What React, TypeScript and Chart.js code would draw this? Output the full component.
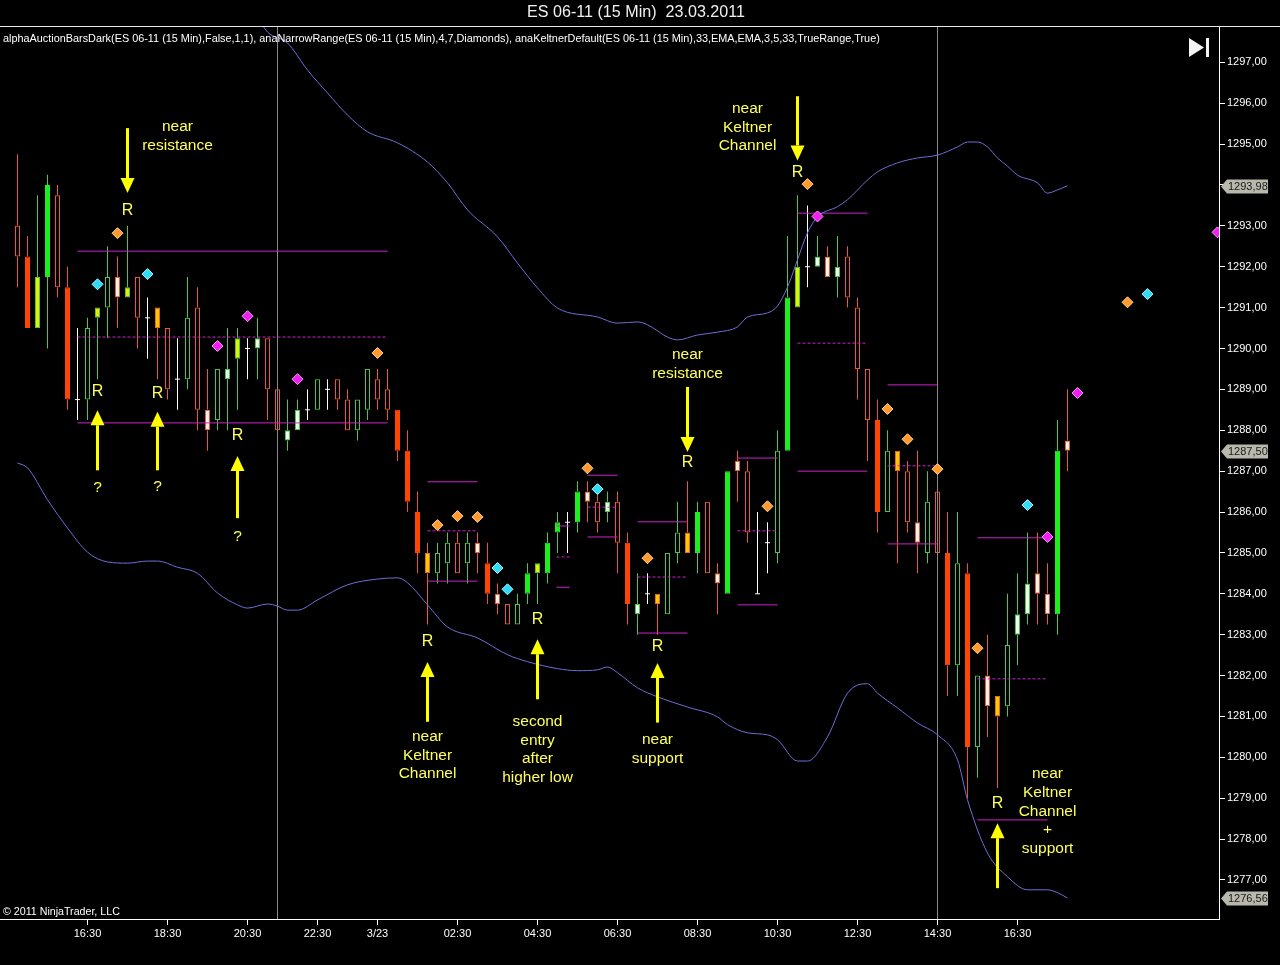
import React, { useEffect, useRef } from "react";
import { Chart, registerables } from "chart.js";

Chart.register(...registerables);

const FONT = '"Liberation Sans", Arial, Helvetica, sans-serif';

// ---------- DATA ----------
const titleText = "ES 06-11 (15 Min)  23.03.2011";
const indicatorText =
  "alphaAuctionBarsDark(ES 06-11 (15 Min),False,1,1), anaNarrowRange(ES 06-11 (15 Min),4,7,Diamonds), anaKeltnerDefault(ES 06-11 (15 Min),33,EMA,EMA,3,5,33,TrueRange,True)";
const copyrightText = "\u00A9 2011 NinjaTrader, LLC";

const xTickBars = [7, 15, 23, 30, 36, 44, 52, 60, 68, 76, 84, 92, 100];
const xTickLabels = ["16:30", "18:30", "20:30", "22:30", "3/23", "02:30", "04:30", "06:30", "08:30", "10:30", "12:30", "14:30", "16:30"];
const yTickValues = [1277, 1278, 1279, 1280, 1281, 1282, 1283, 1284, 1285, 1286, 1287, 1288, 1289, 1290, 1291, 1292, 1293, 1294, 1295, 1296, 1297];

// bar style codes: R solid down, r hollow down, G solid up, g hollow up,
// Y yellow (green rim), O gold (red rim), W white (red rim), w white (green rim), D doji
const barStyle = [
  "r","R","Y","G","r","R","D","g","Y","g","W","Y","r","D","O","r","D","g","r","W",
  "g","w","Y","D","w","r","r","w","w","D","g","D","r","r","g","g","r","r","R","R",
  "R","O","g","g","r","g","W","R","W","r","g","G","Y","G","G","D","G","W","r","w",
  "r","R","w","D","O","g","g","O","G","r","W","G","W","r","D","D","g","G","Y","D",
  "w","W","w","r","r","r","R","g","O","r","W","g","r","R","g","R","g","W","O","g",
  "w","w","W","W","G","W",
];
const openP = [
  1293.0,1292.25,1290.5,1291.75,1293.75,1291.5,1288.75,1288.75,1290.75,1291.0,
  1291.75,1291.25,1291.75,1290.75,1291.0,1290.5,1289.25,1289.25,1291.0,1288.5,
  1288.25,1289.25,1289.75,1290.0,1290.0,1290.25,1289.0,1287.75,1288.0,1288.5,
  1288.5,1289.0,1289.25,1288.75,1288.0,1288.5,1289.25,1289.0,1288.5,1287.5,
  1286.0,1285.0,1284.5,1284.75,1285.25,1284.75,1285.25,1284.75,1284.0,1283.75,
  1283.25,1284.0,1284.5,1284.5,1285.5,1285.75,1285.75,1286.5,1286.25,1286.0,
  1286.25,1285.25,1283.5,1284.0,1284.0,1283.5,1285.0,1285.5,1285.0,1286.25,
  1284.5,1284.0,1287.25,1287.0,1284.0,1285.25,1285.0,1287.5,1291.0,1292.0,
  1292.0,1292.25,1291.75,1292.25,1291.0,1289.5,1288.25,1286.0,1287.5,1287.0,
  1285.75,1285.0,1286.5,1285.0,1282.25,1284.5,1280.25,1282.0,1281.5,1281.25,
  1283.0,1283.5,1284.5,1284.0,1283.5,1287.75,
];
const highP = [
  1294.75,1292.75,1293.75,1294.25,1294.0,1292.0,1290.5,1290.75,1291.0,1292.5,
  1292.25,1293.0,1291.75,1291.25,1291.0,1290.5,1290.25,1291.75,1291.5,1289.5,
  1289.5,1290.5,1290.5,1290.25,1290.75,1290.25,1289.5,1288.75,1288.75,1289.0,
  1289.25,1289.25,1289.25,1289.0,1288.75,1289.5,1289.5,1289.5,1288.5,1288.0,
  1286.5,1285.25,1285.25,1285.5,1285.5,1285.5,1285.5,1285.25,1284.25,1283.75,
  1284.0,1284.75,1284.75,1285.5,1286.0,1286.0,1286.75,1286.75,1286.5,1286.5,
  1286.5,1285.5,1284.5,1284.5,1284.0,1285.0,1286.25,1286.75,1286.25,1286.25,
  1284.75,1287.0,1287.5,1287.25,1286.0,1285.75,1288.0,1292.75,1293.75,1293.5,
  1292.75,1292.5,1292.75,1292.5,1291.25,1289.5,1288.75,1288.0,1287.5,1287.25,
  1287.5,1287.0,1286.5,1286.0,1286.0,1284.75,1282.0,1283.0,1281.5,1284.0,
  1284.5,1285.5,1285.5,1284.75,1288.25,1289.0,
];
const lowP = [
  1291.5,1290.5,1290.5,1290.0,1291.25,1288.5,1288.25,1288.25,1289.25,1290.25,
  1290.5,1291.25,1290.0,1289.75,1289.25,1288.75,1288.5,1289.0,1288.0,1287.5,
  1288.0,1288.0,1288.5,1289.25,1289.25,1288.25,1287.75,1287.5,1288.0,1288.25,
  1288.5,1288.5,1288.5,1288.0,1287.75,1288.25,1288.5,1288.25,1287.25,1286.0,
  1284.5,1283.25,1284.25,1284.25,1284.5,1284.25,1284.5,1283.75,1283.5,1283.25,
  1283.25,1283.75,1283.75,1284.25,1285.0,1285.0,1285.5,1285.75,1285.5,1285.75,
  1284.5,1283.25,1283.0,1283.75,1283.0,1283.5,1284.75,1285.0,1284.5,1284.5,
  1283.5,1284.0,1286.25,1285.25,1284.0,1284.5,1284.75,1287.5,1291.0,1291.5,
  1292.0,1291.75,1291.25,1291.0,1288.75,1287.25,1285.5,1286.0,1284.75,1285.5,
  1284.5,1284.75,1284.75,1281.5,1281.5,1279.0,1279.5,1280.5,1279.25,1281.0,
  1282.25,1283.25,1283.25,1283.25,1283.0,1287.0,
];
const closeP = [
  1292.25,1290.5,1291.75,1294.0,1291.5,1288.75,1288.75,1290.5,1291.0,1291.75,
  1291.25,1291.5,1290.75,1290.75,1290.5,1289.0,1289.25,1290.75,1288.5,1288.0,
  1289.5,1289.5,1290.25,1290.0,1290.25,1289.0,1288.0,1288.0,1288.5,1288.5,
  1289.25,1289.0,1288.75,1288.0,1288.75,1289.5,1288.75,1288.5,1287.5,1286.25,
  1285.0,1284.5,1285.0,1285.25,1284.5,1285.25,1285.0,1284.0,1283.75,1283.25,
  1283.75,1284.5,1284.75,1285.25,1285.75,1285.75,1286.5,1286.25,1285.75,1286.25,
  1285.25,1283.75,1283.75,1284.0,1283.75,1285.0,1285.5,1285.0,1286.0,1284.5,
  1284.25,1287.0,1287.0,1285.5,1284.0,1285.25,1287.5,1291.25,1292.0,1292.0,
  1292.25,1291.75,1292.0,1291.25,1289.5,1288.25,1286.0,1287.5,1287.0,1285.75,
  1285.25,1286.25,1285.0,1282.25,1284.75,1280.25,1282.0,1281.25,1281.0,1282.75,
  1283.5,1284.25,1284.0,1283.5,1287.5,1287.5,
];

// Keltner channel (bar index, price)
const kcUpperBars = [24,25,27,29,31,33,35,38,41,43,45,48,50,52,54,58,60,62,63,65,66,68,70,72,73,75,76,77,78,79,80,82,83,85,86,88,90,92,94,95,96,97,98,99,100,102,103,104,105];
const kcUpper = [1298.1,1297.74,1297.47,1296.81,1296.25,1295.71,1295.3,1295.03,1294.56,1294.05,1293.39,1292.73,1292.09,1291.48,1290.99,1290.77,1290.62,1290.65,1290.58,1290.28,1290.21,1290.33,1290.4,1290.53,1290.77,1290.87,1291.04,1291.5,1292.17,1292.83,1293.22,1293.47,1293.64,1294.12,1294.32,1294.54,1294.66,1294.73,1294.93,1295.05,1295.05,1294.93,1294.66,1294.46,1294.24,1294.05,1293.8,1293.88,1293.98];
const kcLowerBars = [0,1,3,5,7,9,11,13,14,16,18,20,22,23,25,26,27,28,30,33,36,38,39,41,43,46,49,51,54,56,58,59,60,62,64,67,70,71,73,75,76,78,79,81,83,85,86,88,90,92,94,95,97,99,101,103,104,105];
const kcLower = [1287.2,1287.08,1286.3,1285.61,1285.02,1284.78,1284.75,1284.8,1284.8,1284.65,1284.5,1284.02,1283.73,1283.65,1283.75,1283.7,1283.6,1283.6,1283.85,1284.22,1284.36,1284.39,1284.27,1283.73,1283.19,1282.92,1282.51,1282.34,1282.17,1282.12,1282.14,1282.21,1282.07,1281.7,1281.48,1281.23,1280.99,1280.8,1280.6,1280.55,1280.43,1279.91,1279.91,1280.5,1281.57,1281.8,1281.57,1281.21,1280.84,1280.55,1279.94,1278.96,1277.66,1277.08,1276.76,1276.76,1276.69,1276.56];

// Narrow range levels
const nrFrom = [6, 41, 53.9, 57, 62, 72, 78, 87, 96];
const nrTo = [37, 46, 55.2, 60, 67, 76, 85, 92, 103];
const nrTop = [1292.38, 1286.74, 1285.66, 1286.9, 1285.76, 1287.32, 1293.31, 1289.11, 1285.37];
const nrMid = [1290.28, 1285.54, 1284.9, 1286.12, 1284.41, 1285.54, 1290.13, 1287.13, 1281.92];
const nrBot = [1288.18, 1284.31, 1284.16, 1285.39, 1283.04, 1283.73, 1287.0, 1285.22, 1278.47];

// Diamonds
const orangeBars = [10, 36, 42, 44, 46, 57, 63, 75, 79, 87, 89, 92, 96, 111];
const orangeVals = [1292.82, 1289.89, 1285.68, 1285.9, 1285.88, 1287.07, 1284.87, 1286.14, 1294.02, 1288.52, 1287.78, 1287.05, 1282.67, 1291.13];
const cyanBars = [8, 13, 48, 49, 58, 101, 113];
const cyanVals = [1291.57, 1291.82, 1284.63, 1284.11, 1286.56, 1286.17, 1291.33];
const magentaBars = [20, 23, 28, 80, 103, 106, 120];
const magentaVals = [1290.06, 1290.79, 1289.25, 1293.23, 1285.39, 1288.91, 1292.84];

// session separators
const sessionBars = [26, 92];

// annotations
const rMarkBars = [11, 8, 14, 22, 78, 67, 41, 52, 64, 98];
const rMarkVals = [1293.38, 1288.94, 1288.89, 1287.86, 1294.29, 1287.2, 1282.82, 1283.38, 1282.72, 1278.88];
const qMarkBars = [8, 14, 22];
const qMarkVals = [1286.59, 1286.61, 1285.39];
const noteBars = [16, 73, 67, 41, 52, 64, 103];
const noteVals = [1295.42, 1295.86, 1289.84, 1280.5, 1280.87, 1280.43, 1279.59];
const noteLines = [
  ["near", "resistance"],
  ["near", "Keltner", "Channel"],
  ["near", "resistance"],
  ["near", "Keltner", "Channel"],
  ["second", "entry", "after", "higher low"],
  ["near", "support"],
  ["near", "Keltner", "Channel", "+", "support"],
];
const arrowBars = [11, 8, 14, 22, 78, 67, 41, 52, 64, 98];
const arrowFrom = [1295.39, 1287.02, 1287.02, 1285.85, 1296.17, 1289.06, 1280.87, 1281.42, 1280.85, 1276.8];
const arrowTo = [1293.8, 1288.49, 1288.45, 1287.37, 1294.6, 1287.47, 1282.33, 1282.89, 1282.31, 1278.39];

// ---------- STYLE ----------
const X_MIN = -1.75;
const X_MAX = 120.15;
const Y_MIN = 1276.046;
const Y_MAX = 1297.863;

const RED = "#EC5A2C";
const GREEN = "#44CC44";
const STYLES: Record<string, { fill: string; border: string; wick: string }> = {
  R: { fill: "#FF4500", border: "#FF4500", wick: "#F0541E" },
  r: { fill: "rgba(0,0,0,0)", border: RED, wick: RED },
  G: { fill: "#1CF01C", border: "#1CF01C", wick: GREEN },
  g: { fill: "rgba(0,0,0,0)", border: GREEN, wick: GREEN },
  Y: { fill: "#E8EE00", border: GREEN, wick: GREEN },
  O: { fill: "#FFC800", border: "#EC6A20", wick: RED },
  W: { fill: "#FFF0EA", border: RED, wick: RED },
  w: { fill: "#EEFFEE", border: GREEN, wick: GREEN },
  D: { fill: "#FFFFFF", border: "#FFFFFF", wick: "#FFFFFF" },
};
const YELLOW = "#FFFF5A";
const fmtPrice = (v: number) => v.toFixed(2).replace(".", ",");

function buildDatasets() {
  const bodies: any[] = [], bodyFill: string[] = [], bodyBorder: string[] = [];
  const wicks: any[] = [], wickColor: string[] = [];
  const doji: any[] = [];
  for (let i = 0; i < openP.length; i++) {
    const st = STYLES[barStyle[i]];
    const top = Math.max(openP[i], closeP[i]);
    const bot = Math.min(openP[i], closeP[i]);
    if (barStyle[i] === "D") {
      wicks.push({ x: i, y: [lowP[i], highP[i]] });
      wickColor.push(st.wick);
      doji.push({ x: i, y: openP[i] });
      continue;
    }
    bodies.push({ x: i, y: [bot, top] });
    bodyFill.push(st.fill);
    bodyBorder.push(st.border);
    if (highP[i] > top) { wicks.push({ x: i, y: [top, highP[i]] }); wickColor.push(st.wick); }
    if (lowP[i] < bot) { wicks.push({ x: i, y: [lowP[i], bot] }); wickColor.push(st.wick); }
  }
  const ds: any[] = [];
  const diamond = (bars: number[], vals: number[], fill: string, rim: string) => ({
    type: "scatter",
    data: bars.map((b, k) => ({ x: b, y: vals[k] })),
    pointStyle: "rectRot",
    pointRadius: 5.5,
    pointBackgroundColor: fill,
    pointBorderColor: rim,
    pointBorderWidth: 1,
    order: 0,
  });
  ds.push(diamond(orangeBars, orangeVals, "#FF9A2E", "#FFD090"));
  ds.push(diamond(cyanBars, cyanVals, "#30DCF5", "#A8F4FF"));
  ds.push(diamond(magentaBars, magentaVals, "#F020F0", "#FF90FF"));
  ds.push({
    type: "line",
    data: kcUpperBars.map((b, k) => ({ x: b, y: kcUpper[k] })),
    borderColor: "#6E6ED8", borderWidth: 1, pointRadius: 0, cubicInterpolationMode: "monotone", order: 1,
  });
  ds.push({
    type: "line",
    data: kcLowerBars.map((b, k) => ({ x: b, y: kcLower[k] })),
    borderColor: "#6E6ED8", borderWidth: 1, pointRadius: 0, cubicInterpolationMode: "monotone", order: 1,
  });
  for (let k = 0; k < nrFrom.length; k++) {
    const lv = [
      { v: nrTop[k], dash: [] as number[] },
      { v: nrMid[k], dash: [3, 2] },
      { v: nrBot[k], dash: [] as number[] },
    ];
    lv.forEach((l) =>
      ds.push({
        type: "line",
        data: [{ x: nrFrom[k], y: l.v }, { x: nrTo[k], y: l.v }],
        borderColor: "#CC22CC", borderWidth: 1, borderDash: l.dash, pointRadius: 0, order: 1,
      })
    );
  }
  sessionBars.forEach((b) =>
    ds.push({
      type: "line",
      data: [{ x: b, y: Y_MIN }, { x: b, y: Y_MAX }],
      borderColor: "#8A8A8A", borderWidth: 1, pointRadius: 0, order: 2,
    })
  );
  ds.push({
    type: "scatter",
    data: doji,
    pointStyle: "line",
    pointRadius: 2.5,
    pointBorderColor: "#FFFFFF",
    pointBorderWidth: 1,
    order: 3,
  });
  ds.push({
    type: "bar",
    data: bodies,
    backgroundColor: bodyFill,
    borderColor: bodyBorder,
    borderWidth: 1,
    borderSkipped: false,
    barThickness: 5,
    grouped: false,
    inflateAmount: 0,
    order: 4,
  });
  ds.push({
    type: "bar",
    data: wicks,
    backgroundColor: wickColor,
    borderWidth: 0,
    barThickness: 1,
    grouped: false,
    inflateAmount: 0,
    order: 5,
  });
  return ds;
}

const bgPlugin = {
  id: "bg",
  beforeDraw(chart: any) {
    const { ctx, width, height } = chart;
    ctx.save();
    ctx.fillStyle = "#000";
    ctx.fillRect(0, 0, width, height);
    ctx.restore();
  },
};

const notesPlugin = {
  id: "notes",
  afterDatasetsDraw(chart: any) {
    const { ctx } = chart;
    const xs = chart.scales.x, ys = chart.scales.y;
    ctx.save();
    ctx.fillStyle = "#FFFF00";
    ctx.strokeStyle = "#FFFF00";
    for (let k = 0; k < arrowBars.length; k++) {
      const px = xs.getPixelForValue(arrowBars[k]);
      const yT = ys.getPixelForValue(arrowFrom[k]);
      const yH = ys.getPixelForValue(arrowTo[k]);
      const dir = yH > yT ? 1 : -1;
      const headLen = 15, half = 7;
      ctx.lineWidth = 3;
      ctx.beginPath();
      ctx.moveTo(px, yT);
      ctx.lineTo(px, yH - dir * headLen);
      ctx.stroke();
      ctx.beginPath();
      ctx.moveTo(px, yH);
      ctx.lineTo(px - half, yH - dir * headLen);
      ctx.lineTo(px + half, yH - dir * headLen);
      ctx.closePath();
      ctx.fill();
    }
    ctx.fillStyle = YELLOW;
    ctx.textAlign = "center";
    ctx.textBaseline = "middle";
    ctx.font = `16px ${FONT}`;
    rMarkBars.forEach((b, k) => ctx.fillText("R", xs.getPixelForValue(b), ys.getPixelForValue(rMarkVals[k])));
    ctx.font = `15.5px ${FONT}`;
    qMarkBars.forEach((b, k) => ctx.fillText("?", xs.getPixelForValue(b), ys.getPixelForValue(qMarkVals[k])));
    noteBars.forEach((b, k) => {
      const px = xs.getPixelForValue(b);
      const py = ys.getPixelForValue(noteVals[k]);
      noteLines[k].forEach((t, j) => ctx.fillText(t, px, py + j * 18.6));
    });
    ctx.restore();
  },
};

function fitFont(ctx: any, text: string, target: number, base: number) {
  ctx.font = `${base}px ${FONT}`;
  const w = ctx.measureText(text).width;
  return (base * target) / w;
}

const framePlugin = {
  id: "frame",
  afterDraw(chart: any) {
    const { ctx, width, chartArea } = chart;
    const xs = chart.scales.x, ys = chart.scales.y;
    ctx.save();
    ctx.strokeStyle = "#E8E8E8";
    ctx.lineWidth = 1;
    ctx.beginPath();
    ctx.moveTo(0, 26.5);
    ctx.lineTo(width, 26.5);
    ctx.stroke();
    ctx.strokeStyle = "#FFFFFF";
    ctx.beginPath();
    xTickBars.forEach((b) => {
      const px = Math.floor(xs.getPixelForValue(b)) + 0.5;
      ctx.moveTo(px, chartArea.bottom);
      ctx.lineTo(px, chartArea.bottom + 6);
    });
    ctx.stroke();
    ctx.fillStyle = "#F0F0F0";
    ctx.textAlign = "center";
    ctx.textBaseline = "middle";
    ctx.font = `${fitFont(ctx, titleText, 218, 14)}px ${FONT}`;
    ctx.fillText(titleText, 636, 12.5);
    ctx.textAlign = "left";
    ctx.font = `${fitFont(ctx, indicatorText, 878, 11)}px ${FONT}`;
    ctx.fillStyle = "#FFFFFF";
    ctx.fillText(indicatorText, 3, 38.5);
    ctx.font = `${fitFont(ctx, copyrightText, 117, 11)}px ${FONT}`;
    ctx.fillText(copyrightText, 3, 912.5);
    ctx.fillStyle = "#F4F4F4";
    ctx.beginPath();
    ctx.moveTo(1189, 38);
    ctx.lineTo(1204, 47.5);
    ctx.lineTo(1189, 57);
    ctx.closePath();
    ctx.fill();
    ctx.fillRect(1206, 38, 3, 19);
    const boxes = [kcUpper[kcUpper.length - 1], closeP[closeP.length - 1], kcLower[kcLower.length - 1]];
    ctx.font = `11px ${FONT}`;
    boxes.forEach((v) => {
      const py = Math.round(ys.getPixelForValue(v)) + 0.5;
      ctx.fillStyle = "#B8B8AC";
      ctx.beginPath();
      ctx.moveTo(1221, py);
      ctx.lineTo(1227, py - 7);
      ctx.lineTo(1268, py - 7);
      ctx.lineTo(1268, py + 7);
      ctx.lineTo(1227, py + 7);
      ctx.closePath();
      ctx.fill();
      ctx.fillStyle = "#1A1A1A";
      ctx.textAlign = "left";
      ctx.fillText(fmtPrice(v), 1228, py + 0.5);
    });
    ctx.restore();
  },
};

export default function App() {
  const ref = useRef<HTMLCanvasElement>(null);
  useEffect(() => {
    document.body.style.margin = "0";
    document.body.style.background = "#000";
    const canvas = ref.current;
    if (!canvas) return;
    const chart = new Chart(canvas, {
      type: "bar",
      data: { datasets: buildDatasets() },
      options: {
        animation: false,
        responsive: false,
        events: [],
        layout: { autoPadding: false, padding: { top: 27, left: 0, right: 0, bottom: 0 } },
        plugins: { legend: { display: false }, tooltip: { enabled: false }, title: { display: false } },
        scales: {
          x: {
            type: "linear",
            position: "bottom",
            min: X_MIN,
            max: X_MAX,
            offset: false,
            grid: { display: true, offset: false, drawOnChartArea: false, drawTicks: true, tickLength: 6, color: "#FFFFFF", lineWidth: 1 },
            border: { display: true, color: "#FFFFFF", width: 1 },
            ticks: {
              color: "#FFFFFF",
              font: { family: FONT, size: 11 },
              padding: 2,
              autoSkip: false,
              maxRotation: 0,
              callback: (v: any) => {
                const k = xTickBars.indexOf(Number(v));
                return k >= 0 ? xTickLabels[k] : "";
              },
            },
            afterBuildTicks: (s: any) => {
              s.ticks = xTickBars.map((v) => ({ value: v }));
            },
            afterFit: (s: any) => {
              s.height = 46;
              s.paddingLeft = 0;
              s.paddingRight = 0;
            },
          } as any,
          y: {
            type: "linear",
            position: "right",
            min: Y_MIN,
            max: Y_MAX,
            grid: { display: true, offset: false, drawOnChartArea: false, drawTicks: true, tickLength: 6, color: "#FFFFFF", lineWidth: 1 },
            border: { display: true, color: "#FFFFFF", width: 1 },
            ticks: {
              color: "#FFFFFF",
              font: { family: FONT, size: 11 },
              padding: 2,
              autoSkip: false,
              callback: (v: any) => fmtPrice(Number(v)),
            },
            afterBuildTicks: (s: any) => {
              s.ticks = yTickValues.map((v) => ({ value: v }));
            },
            afterFit: (s: any) => {
              s.width = 61;
              s.paddingTop = 0;
              s.paddingBottom = 0;
            },
          } as any,
        },
      } as any,
      plugins: [bgPlugin, notesPlugin, framePlugin],
    });
    return () => chart.destroy();
  }, []);
  return (
    <div style={{ width: 1280, height: 965, background: "#000" }}>
      <canvas ref={ref} width={1280} height={965} style={{ display: "block", width: 1280, height: 965 }} />
    </div>
  );
}
